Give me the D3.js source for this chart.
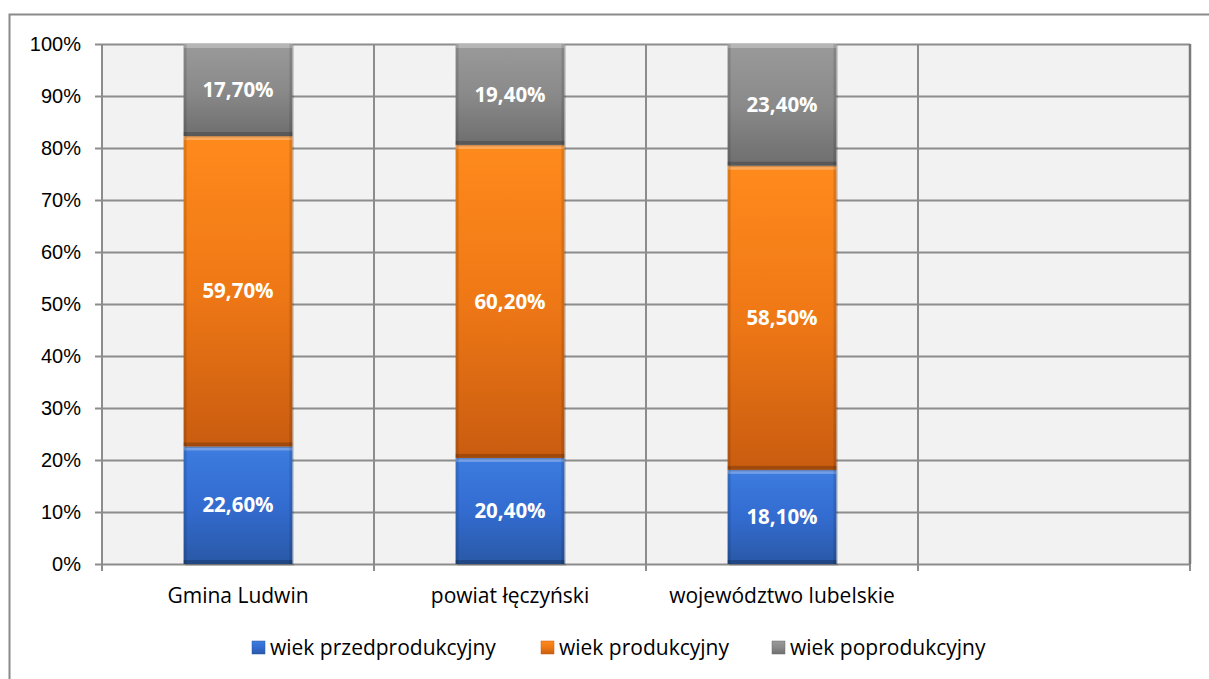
<!DOCTYPE html>
<html>
<head>
<meta charset="utf-8">
<script src="https://cdn.jsdelivr.net/npm/d3@7"></script>
<style>
  body { margin: 0; background: #fff; }
  svg { font-family: "Open Sans", "DejaVu Sans", sans-serif; }
</style>
</head>
<body>
<div id="chart"></div>
<script>
// categories (the fourth slot is empty in the original chart)
const categories = ["Gmina Ludwin", "powiat łęczyński", "województwo lubelskie", ""];
const seriesNames = ["wiek przedprodukcyjny", "wiek produkcyjny", "wiek poprodukcyjny"];
const przedprodukcyjny = [22.6, 20.4, 18.1];
const produkcyjny = [59.7, 60.2, 58.5];
const poprodukcyjny = [17.7, 19.4, 23.4];
const yTicks = [0, 10, 20, 30, 40, 50, 60, 70, 80, 90, 100];

const width = 1209, height = 679;
const margin = {top: 44, right: 19, bottom: 115, left: 102};

const svg = d3.select("#chart").append("svg")
    .attr("width", width)
    .attr("height", height);

// gradients
const defs = svg.append("defs");
const palette = [
    {id: "gBlue", top: "#3d7ce0", mid: "#336cd0", bottom: "#2958a6"},
    {id: "gOrange", top: "#ff8a1c", mid: "#ef7816", bottom: "#c95c10"},
    {id: "gGray", top: "#9a9a9a", mid: "#8a8a8a", bottom: "#6e6e6e"}
];
palette.forEach(function(p) {
    const g = defs.append("linearGradient").attr("id", p.id)
        .attr("x1", 0).attr("y1", 0).attr("x2", 0).attr("y2", 1);
    g.append("stop").attr("offset", "0%").attr("stop-color", p.top);
    g.append("stop").attr("offset", "50%").attr("stop-color", p.mid);
    g.append("stop").attr("offset", "100%").attr("stop-color", p.bottom);
});

// outer chart border
svg.append("rect")
    .attr("x", 9.5).attr("y", 14.5)
    .attr("width", width + 10).attr("height", height)
    .attr("fill", "none")
    .attr("stroke", "#8a8a8a")
    .attr("stroke-width", 2);

const x = d3.scaleBand()
    .domain(d3.range(categories.length))
    .range([margin.left, width - margin.right]);

const y = d3.scaleLinear()
    .domain([0, 100])
    .range([height - margin.bottom, margin.top]);

const plot = svg.append("g");

plot.append("rect")
    .attr("x", x.range()[0]).attr("y", y(100))
    .attr("width", x.range()[1] - x.range()[0])
    .attr("height", y(0) - y(100))
    .attr("fill", "#f2f2f2");

// horizontal gridlines + y axis
const yAxis = d3.axisLeft(y)
    .tickValues(yTicks)
    .tickFormat(d => d + "%")
    .tickSizeInner(-(x.range()[1] - x.range()[0]))
    .tickSizeOuter(0);

const yg = svg.append("g")
    .attr("transform", "translate(" + margin.left + ",0)")
    .call(yAxis);
yg.select(".domain").remove();
yg.selectAll(".tick line").attr("stroke", "#8c8c8c").attr("stroke-width", 2);
yg.selectAll(".tick text")
    .attr("font-size", 20)
    .attr("fill", "#000")
    .attr("x", -21);
// little outside tick marks on the left
yg.selectAll(".tick").append("line")
    .attr("x1", -7).attr("x2", 0)
    .attr("stroke", "#8c8c8c").attr("stroke-width", 2);

// vertical gridlines at category boundaries
const bounds = d3.range(categories.length + 1).map(i =>
    i < categories.length ? x(i) : x.range()[1]);
svg.append("g").selectAll("line")
    .data(bounds)
    .enter().append("line")
    .attr("x1", d => d).attr("x2", d => d)
    .attr("y1", y(100)).attr("y2", y(0) + 7)
    .attr("stroke", "#8c8c8c").attr("stroke-width", 2);

// right edge shadow of plot area
svg.append("line")
    .attr("x1", x.range()[1]).attr("x2", x.range()[1])
    .attr("y1", y(100)).attr("y2", y(0))
    .attr("stroke", "#7a7a7a").attr("stroke-width", 2.5);

// stacked data
const rows = categories.slice(0, 3).map(function(c, i) {
    return {i: i, przed: przedprodukcyjny[i], prod: produkcyjny[i], po: poprodukcyjny[i]};
});
const stack = d3.stack().keys(["przed", "prod", "po"]);
const series = stack(rows);

const barW = x.bandwidth() * 0.4;
const barX = i => x(i) + (x.bandwidth() - barW) / 2;

series.forEach(function(s, si) {
    const g = svg.append("g");
    const bars = g.selectAll("g.bar")
        .data(s)
        .enter().append("g");

    // drop shadow
    bars.append("rect")
        .attr("x", d => barX(d.data.i) + 1.5)
        .attr("y", d => y(d[1]) + 1.5)
        .attr("width", barW)
        .attr("height", d => y(d[0]) - y(d[1]))
        .attr("fill", "rgba(0,0,0,0.18)");

    bars.append("rect")
        .attr("x", d => barX(d.data.i))
        .attr("y", d => y(d[1]))
        .attr("width", barW)
        .attr("height", d => y(d[0]) - y(d[1]))
        .attr("fill", "url(#" + palette[si].id + ")");

    // bevel: light top edge, dark sides and bottom
    bars.append("rect")
        .attr("x", d => barX(d.data.i))
        .attr("y", d => y(d[1]))
        .attr("width", barW)
        .attr("height", 4)
        .attr("fill", "rgba(255,255,255,0.28)");
    bars.append("rect")
        .attr("x", d => barX(d.data.i))
        .attr("y", d => y(d[0]) - 4)
        .attr("width", barW)
        .attr("height", 4)
        .attr("fill", "rgba(0,0,0,0.2)");
    bars.append("rect")
        .attr("x", d => barX(d.data.i))
        .attr("y", d => y(d[1]))
        .attr("width", 3)
        .attr("height", d => y(d[0]) - y(d[1]))
        .attr("fill", "rgba(0,0,0,0.12)");
    bars.append("rect")
        .attr("x", d => barX(d.data.i) + barW - 3)
        .attr("y", d => y(d[1]))
        .attr("width", 3)
        .attr("height", d => y(d[0]) - y(d[1]))
        .attr("fill", "rgba(0,0,0,0.12)");

    bars.append("text")
        .attr("x", d => barX(d.data.i) + barW / 2)
        .attr("y", d => (y(d[0]) + y(d[1])) / 2)
        .attr("dy", "0.35em")
        .attr("text-anchor", "middle")
        .attr("font-size", 20.5)
        .attr("font-weight", "bold")
        .attr("fill", "#fff")
        .text(d => (d[1] - d[0]).toFixed(2).replace(".", ",") + "%");
});

// category labels
svg.append("g").selectAll("text")
    .data(categories)
    .enter().append("text")
    .attr("x", (d, i) => x(i) + x.bandwidth() / 2)
    .attr("y", 603)
    .attr("text-anchor", "middle")
    .attr("font-size", 21)
    .attr("fill", "#000")
    .text(d => d);

// legend
const legendX = [252, 541, 772];
const legend = svg.append("g").selectAll("g")
    .data(seriesNames)
    .enter().append("g")
    .attr("transform", (d, i) => "translate(" + legendX[i] + ",641)");
legend.append("rect")
    .attr("width", 13).attr("height", 13)
    .attr("fill", (d, i) => "url(#" + palette[i].id + ")")
    .attr("stroke", (d, i) => palette[i].bottom)
    .attr("stroke-width", 0.5);
legend.append("text")
    .attr("x", 18).attr("y", 7)
    .attr("dy", "0.35em")
    .attr("font-size", 21)
    .attr("fill", "#000")
    .text(d => d);
</script>
</body>
</html>
